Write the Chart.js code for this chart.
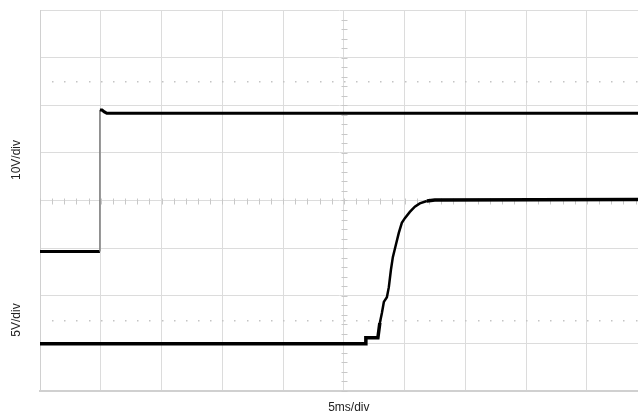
<!DOCTYPE html>
<html>
<head>
<meta charset="utf-8">
<script src="https://cdn.jsdelivr.net/npm/chart.js@4/dist/chart.umd.min.js"></script>
<style>
    html, body { margin: 0; padding: 0; background: #fff; overflow: hidden; }
    #scope { display: block; }
</style>
</head>
<body>
<canvas id="scope" width="638" height="417"></canvas>
<script>
// Time axis in ms (5 ms per division), vertical axis in screen divisions (8 total)
const xTicks = [0, 5, 10, 15, 20, 25, 30, 35, 40, 45];
const yTicks = [0, 1, 2, 3, 4, 5, 6, 7, 8];

// Upper trace, 10V/div
const ch1Time = [0, 4.93, 4.93, 5.1, 5.3, 5.5, 49.2];
const ch1Level = [2.93, 2.93, 5.90, 5.90, 5.86, 5.83, 5.83];

// Lower trace, 5V/div
const ch2Time = [0, 26.81, 26.81, 27.80, 27.96, 28.13, 28.29, 28.54, 28.70, 28.87, 29.03, 29.28, 29.52,
    29.77, 30.02, 30.43, 30.84, 31.25, 31.83, 32.48, 49.2];
const ch2Level = [0.99, 0.99, 1.12, 1.12, 1.43, 1.64, 1.87, 1.97, 2.18, 2.54, 2.81, 3.07, 3.32,
    3.53, 3.63, 3.76, 3.87, 3.94, 3.99, 4.01, 4.02];

const xMax = 49.2;
const gridColor = '#dcdcdc';

function toPoints(xs, ys) {
    return xs.map((x, i) => ({ x: x, y: ys[i] }));
}

// Center-axis ticks and dotted reference lines
const scopeGraticule = {
    id: 'scopeGraticule',
    beforeDatasetsDraw(chart) {
        const { ctx, scales: { x, y } } = chart;
        ctx.save();
        ctx.strokeStyle = '#c8c8c8';
        ctx.lineWidth = 1;
        const cx = Math.round(x.getPixelForValue(25)) + 0.5;
        const cy = Math.round(y.getPixelForValue(4)) + 0.5;
        ctx.beginPath();
        for (let v = 0; v <= 8; v += 0.2) {
            const py = Math.round(y.getPixelForValue(v)) + 0.5;
            ctx.moveTo(cx - 3, py);
            ctx.lineTo(cx + 3, py);
        }
        for (let t = 0; t <= xMax; t += 1) {
            const px = Math.round(x.getPixelForValue(t)) + 0.5;
            ctx.moveTo(px, cy - 3);
            ctx.lineTo(px, cy + 3);
        }
        ctx.stroke();

        // dotted lines at 1.5 and 6.5 div
        ctx.fillStyle = '#c4c4c4';
        [1.5, 6.5].forEach(level => {
            const py = Math.round(y.getPixelForValue(level));
            for (let t = 1; t <= xMax; t += 1) {
                const px = Math.round(x.getPixelForValue(t));
                ctx.fillRect(px, py, 1.5, 1.5);
            }
        });
        ctx.restore();
    },
    afterDraw(chart) {
        const { ctx, scales: { x } } = chart;
        ctx.save();
        ctx.fillStyle = '#222';
        ctx.font = '12px "Liberation Sans", Arial, sans-serif';
        ctx.textAlign = 'center';
        ctx.textBaseline = 'middle';
        ctx.fillText('5ms/div', x.getPixelForValue(25) + 5, 408);
        [['10V/div', 160], ['5V/div', 320]].forEach(([text, py]) => {
            ctx.save();
            ctx.translate(17, py);
            ctx.rotate(-Math.PI / 2);
            ctx.fillText(text, 0, 0);
            ctx.restore();
        });
        ctx.restore();
    }
};

new Chart(document.getElementById('scope'), {
    type: 'line',
    data: {
        datasets: [{
            label: 'CH1',
            data: toPoints(ch1Time, ch1Level),
            borderColor: '#000',
            borderWidth: 3,
            pointRadius: 0,
            tension: 0,
            segment: {
                borderWidth: c => c.p0.parsed.x === c.p1.parsed.x ? 1.5 : undefined,
                borderColor: c => c.p0.parsed.x === c.p1.parsed.x ? '#7a7a7a' : undefined
            }
        }, {
            label: 'CH2',
            data: toPoints(ch2Time, ch2Level),
            borderColor: '#000',
            borderWidth: 3,
            pointRadius: 0,
            tension: 0,
            segment: {
                borderWidth: c => (c.p0.parsed.y < 1.2 || c.p0.parsed.y > 3.98) ? 3.5 : 2.5
            }
        }]
    },
    options: {
        responsive: false,
        animation: false,
        devicePixelRatio: 1,
        layout: { padding: { left: 40, right: 0, top: 10, bottom: 26 } },
        plugins: {
            legend: { display: false },
            tooltip: { enabled: false }
        },
        scales: {
            x: {
                type: 'linear',
                min: 0,
                max: xMax,
                afterBuildTicks: axis => { axis.ticks = xTicks.map(v => ({ value: v })); },
                ticks: { display: false },
                grid: { color: gridColor, lineWidth: 1, drawTicks: false },
                border: { display: true, color: '#d0d0d0', width: 2 }
            },
            y: {
                type: 'linear',
                min: 0,
                max: 8,
                afterBuildTicks: axis => { axis.ticks = yTicks.map(v => ({ value: v })); },
                ticks: { display: false },
                grid: { color: gridColor, lineWidth: 1, drawTicks: false },
                border: { display: true, color: '#d0d0d0', width: 1 }
            }
        }
    },
    plugins: [scopeGraticule]
});
</script>
</body>
</html>
